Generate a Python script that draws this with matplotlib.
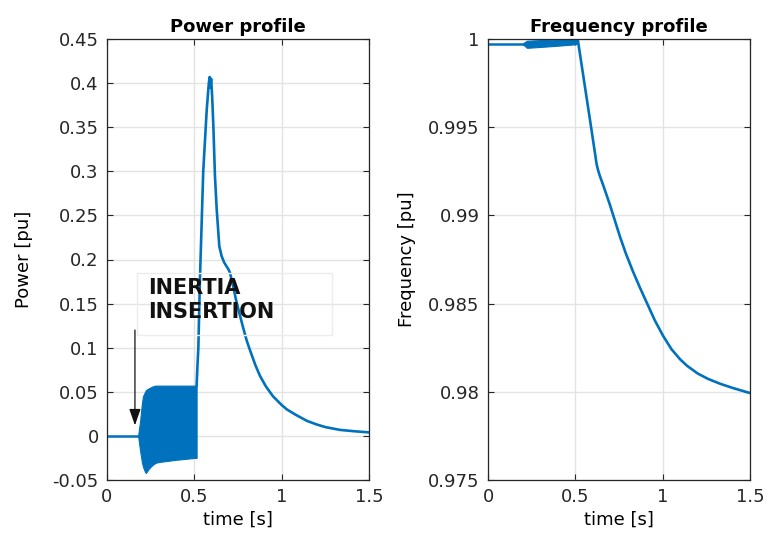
import matplotlib
matplotlib.use("Agg")
import matplotlib.pyplot as plt
from matplotlib.patches import Rectangle

# ---------------- data ----------------
# Power profile: flat part, oscillation band, then main transient
power_pre_t = [0.0, 0.178]
power_pre_v = [0.0, 0.0]

band_p_t     = [0.178, 0.189, 0.200, 0.206, 0.218, 0.223, 0.240, 0.260, 0.275, 0.286, 0.320, 0.400, 0.450, 0.500, 0.513]
band_p_upper = [0.000, 0.016, 0.037, 0.045, 0.050, 0.052, 0.054, 0.056, 0.057, 0.057, 0.057, 0.057, 0.057, 0.057, 0.057]
band_p_lower = [0.000, -0.016, -0.030, -0.035, -0.041, -0.042, -0.037, -0.033, -0.031, -0.030, -0.029, -0.027, -0.026, -0.025, -0.025]

power_t = [0.513, 0.518, 0.523, 0.532, 0.551, 0.571, 0.583, 0.588, 0.592, 0.596, 0.602, 0.609, 0.618,
           0.628, 0.643, 0.656, 0.670, 0.685, 0.695, 0.704, 0.721, 0.740, 0.762, 0.779, 0.800,
           0.819, 0.850, 0.876, 0.910, 0.950, 1.000, 1.030, 1.080, 1.145, 1.200, 1.250, 1.334,
           1.420, 1.500]
power_v = [0.057, 0.080, 0.100, 0.177, 0.300, 0.370, 0.400, 0.407, 0.395, 0.405, 0.385, 0.351, 0.295,
           0.257, 0.215, 0.204, 0.197, 0.192, 0.189, 0.185, 0.171, 0.153, 0.136, 0.123, 0.108,
           0.097, 0.080, 0.068, 0.056, 0.045, 0.035, 0.030, 0.024, 0.017, 0.013, 0.010, 0.0068,
           0.0052, 0.0040]

# Frequency profile
freq_pre_t = [0.0, 0.20]
freq_pre_v = [0.99973, 0.99973]

band_f_t     = [0.200, 0.223, 0.300, 0.400, 0.500, 0.515]
band_f_upper = [0.99976, 0.99990, 0.99994, 0.99997, 1.00000, 1.00000]
band_f_lower = [0.99970, 0.99950, 0.99955, 0.99962, 0.99970, 0.99975]

freq_t = [0.515, 0.584, 0.622, 0.630, 0.640, 0.660, 0.698, 0.756, 0.790, 0.830, 0.870, 0.910, 0.955,
          1.002, 1.050, 1.100, 1.139, 1.200, 1.260, 1.328, 1.400, 1.500]
freq_v = [0.99990, 0.99541, 0.99290, 0.99257, 0.99225, 0.99170, 0.99060, 0.98878, 0.98782, 0.98682,
          0.98590, 0.98503, 0.98405, 0.98318, 0.98242, 0.98184, 0.98148, 0.98104, 0.98073, 0.98046,
          0.98022, 0.97993]

x_ticks = [0, 0.5, 1, 1.5]
x_ticklabels = ["0", "0.5", "1", "1.5"]
p_ticks = [-0.05, 0, 0.05, 0.1, 0.15, 0.2, 0.25, 0.3, 0.35, 0.4, 0.45]
p_ticklabels = ["-0.05", "0", "0.05", "0.1", "0.15", "0.2", "0.25", "0.3", "0.35", "0.4", "0.45"]
f_ticks = [0.975, 0.98, 0.985, 0.99, 0.995, 1.0]
f_ticklabels = ["0.975", "0.98", "0.985", "0.99", "0.995", "1"]

annot_text = "INERTIA\nINSERTION"
arrow_from = (0.160, 0.120)
arrow_to = (0.160, 0.012)

# ---------------- styling ----------------
plt.rcParams['font.family'] = ['DejaVu Sans']
LINE = '#0072BD'
SPINE = '#262626'
GRID = '#e3e3e3'

fig = plt.figure(figsize=(7.67, 5.41), dpi=100)
axP = fig.add_axes([107/767, 61/541, 262/767, 441/541])
axF = fig.add_axes([488/767, 61/541, 262/767, 441/541])


def style(ax):
    ax.grid(True, color=GRID, linewidth=1.0)
    ax.set_axisbelow(True)
    for s in ax.spines.values():
        s.set_color(SPINE)
        s.set_linewidth(0.9)
    ax.tick_params(direction='in', length=4, width=0.8, colors=SPINE,
                   labelsize=13, top=True, right=True, pad=6)
    for lbl in ax.get_xticklabels() + ax.get_yticklabels():
        lbl.set_color('#262626')


# Power
axP.plot(power_pre_t, power_pre_v, color=LINE, lw=1.8)
axP.fill_between(band_p_t, band_p_lower, band_p_upper, color=LINE, lw=0.8, edgecolor=LINE)
axP.plot(power_t, power_v, color=LINE, lw=1.9, solid_joinstyle='round')
axP.set_xlim(0, 1.5)
axP.set_ylim(-0.05, 0.45)
axP.set_xticks(x_ticks)
axP.set_xticklabels(x_ticklabels)
axP.set_yticks(p_ticks)
axP.set_yticklabels(p_ticklabels)
axP.set_title("Power profile", fontsize=13, fontweight='bold', pad=5)
axP.set_xlabel("time [s]", fontsize=13, labelpad=3)
axP.set_ylabel("Power [pu]", fontsize=13, labelpad=14)
style(axP)

axP.add_patch(Rectangle((0.172, 0.114), 1.116, 0.071, fill=False,
                        edgecolor='#ececec', linewidth=1.0, zorder=3))
axP.text(0.235, 0.1785, annot_text, fontsize=15, fontweight='bold',
         va='top', ha='left', linespacing=1.2, color='#111111', zorder=4)
axP.annotate("", xy=arrow_to, xytext=arrow_from,
             arrowprops=dict(arrowstyle='-|>,head_width=0.35,head_length=1.0',
                             color='#111111', lw=0.9, shrinkA=0, shrinkB=0),
             zorder=5)

# Frequency
axF.plot(freq_pre_t, freq_pre_v, color=LINE, lw=1.8)
axF.fill_between(band_f_t, band_f_lower, band_f_upper, color=LINE, lw=0.8, edgecolor=LINE)
axF.plot(freq_t, freq_v, color=LINE, lw=1.9, solid_joinstyle='round')
axF.set_xlim(0, 1.5)
axF.set_ylim(0.975, 1.0)
axF.set_xticks(x_ticks)
axF.set_xticklabels(x_ticklabels)
axF.set_yticks(f_ticks)
axF.set_yticklabels(f_ticklabels)
axF.set_title("Frequency profile", fontsize=13, fontweight='bold', pad=5)
axF.set_xlabel("time [s]", fontsize=13, labelpad=3)
axF.set_ylabel("Frequency [pu]", fontsize=13, labelpad=9)
style(axF)

fig.savefig("out.png", dpi=100)
